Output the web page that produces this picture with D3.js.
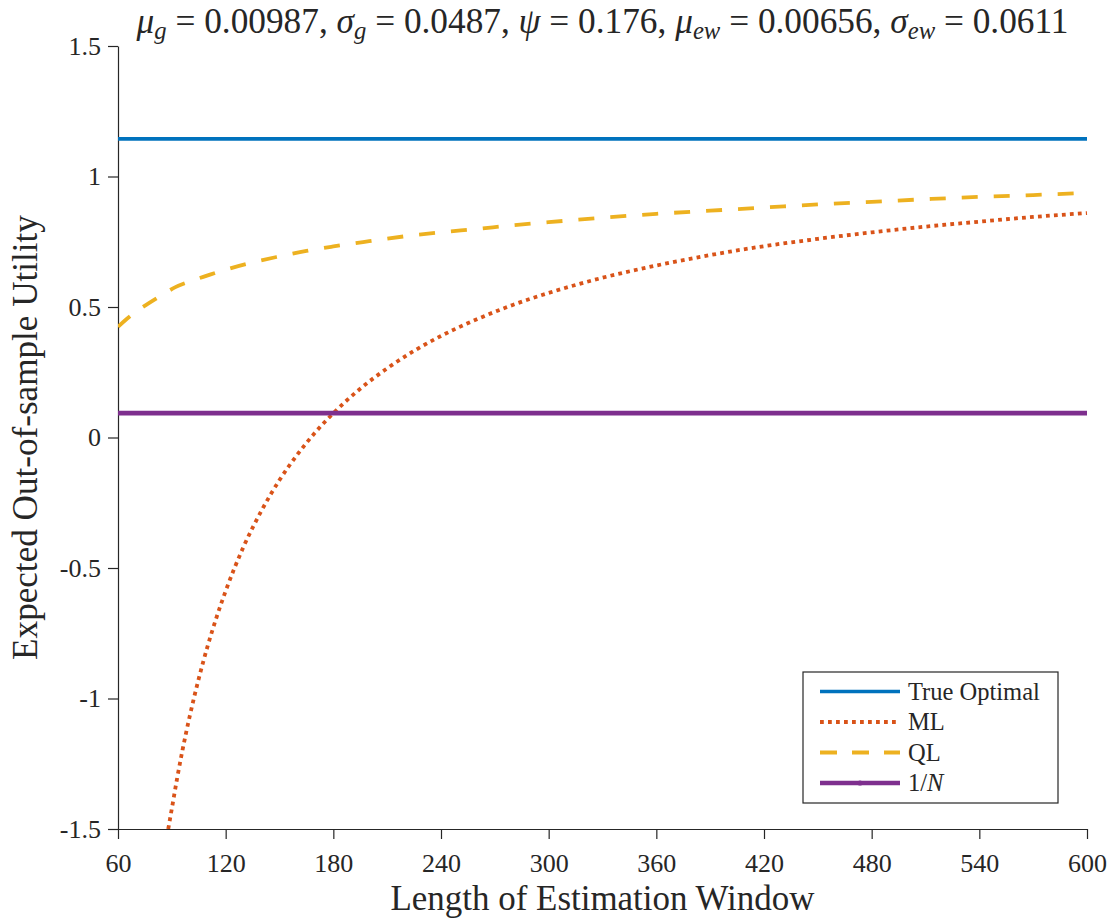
<!DOCTYPE html>
<html>
<head>
<meta charset="utf-8">
<script src="https://cdn.jsdelivr.net/npm/d3@7"></script>
<style>
  html, body { margin: 0; padding: 0; background: #fff; }
  svg { display: block; }
  svg text { font-family: "Liberation Serif", "DejaVu Serif", serif !important; fill: #262626; }
</style>
</head>
<body>
<svg id="chart" width="1112" height="920" font-family="'Liberation Serif', serif"></svg>
<script>
// ---------------- data ----------------
const xTicks = [60, 120, 180, 240, 300, 360, 420, 480, 540, 600];
const yTicks = [-1.5, -1, -0.5, 0, 0.5, 1, 1.5];
const yTickLabels = ["-1.5", "-1", "-0.5", "0", "0.5", "1", "1.5"];

const seriesNames = ["True Optimal", "ML", "QL", "1/N"];

const trueOptimalT = [60, 600];
const trueOptimalU = [1.144, 1.144];

const mlT = [88, 90, 93, 96, 100, 105, 110, 115, 120, 130, 140, 150, 160, 170, 180, 195, 210, 225, 240, 260, 280, 300, 330, 360, 390, 420, 450, 480, 510, 540, 570, 600];
const mlU = [-1.50, -1.422, -1.304, -1.196, -1.067, -0.924, -0.798, -0.687, -0.588, -0.418, -0.280, -0.163, -0.065, 0.020, 0.093, 0.187, 0.265, 0.332, 0.389, 0.453, 0.508, 0.554, 0.612, 0.659, 0.699, 0.733, 0.761, 0.786, 0.808, 0.827, 0.845, 0.860];

const qlT = [60, 65, 70, 77, 85, 92, 100, 110, 120, 135, 150, 165, 180, 200, 220, 240, 260, 280, 300, 330, 360, 390, 420, 450, 480, 510, 540, 570, 600];
const qlU = [0.424, 0.455, 0.482, 0.514, 0.548, 0.576, 0.598, 0.621, 0.643, 0.671, 0.694, 0.715, 0.732, 0.752, 0.771, 0.786, 0.799, 0.813, 0.825, 0.842, 0.857, 0.869, 0.881, 0.893, 0.903, 0.913, 0.922, 0.929, 0.937];

const oneOverNT = [60, 600];
const oneOverNU = [0.0935, 0.0935];

// ---------------- layout ----------------
const plot = { left: 118, right: 1087, top: 46, bottom: 829 };
const axisColor = "#262626";
const serif = "'Liberation Serif', 'DejaVu Serif', serif";

const svg = d3.select("#chart");

const x = d3.scaleLinear().domain([60, 600]).range([plot.left, plot.right]);
const y = d3.scaleLinear().domain([-1.5, 1.5]).range([plot.bottom, plot.top]);

function fitWidth(sel, target) {
  const node = sel.node();
  const fs = parseFloat(sel.attr("font-size"));
  const w = node.getComputedTextLength();
  if (w > 0) sel.attr("font-size", fs * target / w);
}

// clip
svg.append("defs").append("clipPath").attr("id", "clip")
  .append("rect").attr("x", plot.left).attr("y", plot.top - 3)
  .attr("width", plot.right - plot.left + 3).attr("height", plot.bottom - plot.top + 3);

// axes
const xAxis = d3.axisBottom(x).tickValues(xTicks).tickSize(10).tickSizeOuter(0).tickPadding(8)
  .tickFormat(d => String(d));
const gx = svg.append("g").attr("transform", `translate(0,${plot.bottom})`).call(xAxis);

const yAxis = d3.axisLeft(y).tickValues(yTicks).tickSize(10).tickSizeOuter(0).tickPadding(7)
  .tickFormat((d, i) => yTickLabels[i]);
const gy = svg.append("g").attr("transform", `translate(${plot.left},0)`).call(yAxis);

[gx, gy].forEach(g => {
  g.attr("font-family", serif);
  g.select(".domain").attr("stroke", axisColor).attr("stroke-width", 1.2);
  g.selectAll(".tick line").attr("stroke", axisColor).attr("stroke-width", 1.2);
  g.selectAll(".tick text").attr("fill", axisColor)
    .style("font-family", serif).attr("font-size", 26);
});
gx.selectAll(".tick text").attr("dy", "0.95em");

// lines
const lineGen = d3.line().x(d => x(d[0])).y(d => y(d[1])).curve(d3.curveMonotoneX);
const zip = (a, b) => a.map((v, i) => [v, b[i]]);

const series = [
  { name: seriesNames[0], data: zip(trueOptimalT, trueOptimalU), color: "#0072BD", width: 3.6, dash: null },
  { name: seriesNames[1], data: zip(mlT, mlU), color: "#D95319", width: 3.8, dash: "3.8,4.2" },
  { name: seriesNames[2], data: zip(qlT, qlU), color: "#EDB120", width: 3.8, dash: "16,16" },
  { name: seriesNames[3], data: zip(oneOverNT, oneOverNU), color: "#7E2F8E", width: 4.6, dash: null }
];

const gLines = svg.append("g").attr("clip-path", "url(#clip)");
series.forEach(s => {
  gLines.append("path")
    .datum(s.data)
    .attr("d", lineGen)
    .attr("fill", "none")
    .attr("stroke", s.color)
    .attr("stroke-width", s.width)
    .attr("stroke-dasharray", s.dash)
    .attr("stroke-linecap", "butt");
});

// title
const title = svg.append("text")
  .attr("x", (plot.left + plot.right) / 2)
  .attr("y", 33)
  .attr("text-anchor", "middle")
  .style("font-family", serif)
  .attr("font-size", 28);
function addParam(sym, sub, val, last) {
  title.append("tspan").attr("font-style", "italic").text(sym);
  if (sub) {
    title.append("tspan").attr("font-style", "italic").attr("font-size", "0.7em").attr("dy", 6).text(sub);
    title.append("tspan").attr("dy", -6).text(" = " + val + (last ? "" : ", "));
  } else {
    title.append("tspan").text(" = " + val + (last ? "" : ", "));
  }
}
addParam("μ", "g", "0.00987");
addParam("σ", "g", "0.0487");
addParam("ψ", null, "0.176");
addParam("μ", "ew", "0.00656");
addParam("σ", "ew", "0.0611", true);
fitWidth(title, 932);

// x label
const xLabel = svg.append("text")
  .attr("x", (plot.left + plot.right) / 2)
  .attr("y", 910)
  .attr("text-anchor", "middle")
  .style("font-family", serif)
  .attr("font-size", 29)
  .text("Length of Estimation Window");
fitWidth(xLabel, 424);

// y label
const yLabel = svg.append("text")
  .attr("transform", `translate(37,${(plot.top + plot.bottom) / 2}) rotate(-90)`)
  .attr("text-anchor", "middle")
  .style("font-family", serif)
  .attr("font-size", 29)
  .text("Expected Out-of-sample Utility");
fitWidth(yLabel, 445);

// legend
const leg = { x: 803, y: 672, w: 255, h: 131 };
const gLeg = svg.append("g");
gLeg.append("rect")
  .attr("x", leg.x).attr("y", leg.y).attr("width", leg.w).attr("height", leg.h)
  .attr("fill", "#fff").attr("stroke", axisColor).attr("stroke-width", 1.2);
series.forEach((s, i) => {
  const cy = leg.y + 19.5 + i * 30.5;
  gLeg.append("line")
    .attr("x1", leg.x + 17).attr("x2", leg.x + 97)
    .attr("y1", cy).attr("y2", cy)
    .attr("stroke", s.color).attr("stroke-width", s.width)
    .attr("stroke-dasharray", s.dash === "16,16" ? "17,15" : s.dash);
  const t = gLeg.append("text")
    .attr("x", leg.x + 105).attr("y", cy + 8)
    .style("font-family", serif)
    .attr("font-size", 24.5);
  if (s.name === "1/N") {
    t.append("tspan").text("1/");
    t.append("tspan").attr("font-style", "italic").text("N");
    gLeg.append("circle").attr("cx", leg.x + 57).attr("cy", cy).attr("r", 2.6).attr("fill", s.color);
  } else {
    t.text(s.name);
  }
});
</script>
</body>
</html>
